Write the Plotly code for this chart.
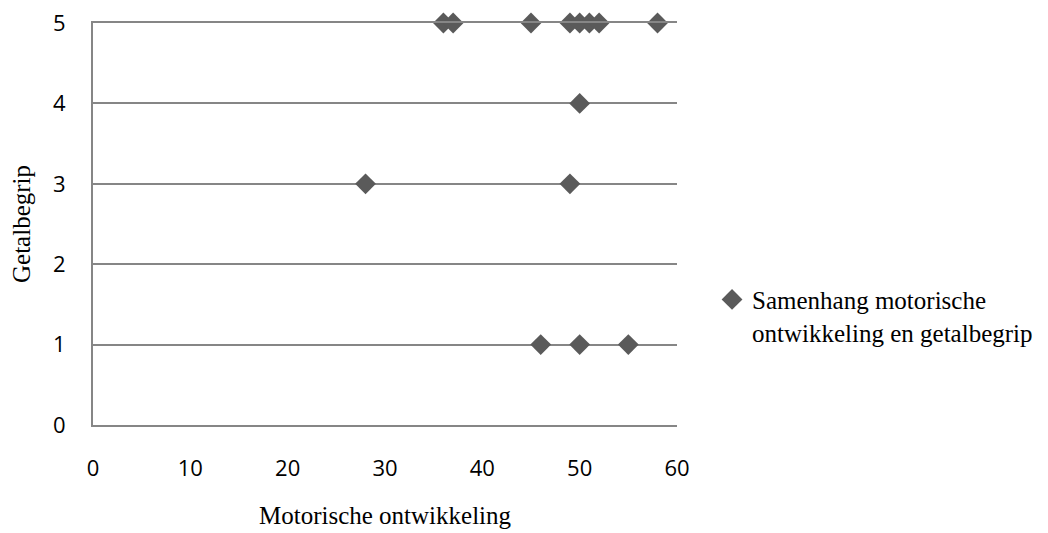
import plotly.graph_objects as go

motorisch = [36, 37, 45, 49, 50, 51, 52, 58, 50, 28, 49, 46, 50, 55]
getalbegrip = [5, 5, 5, 5, 5, 5, 5, 5, 4, 3, 3, 1, 1, 1]
x_ticks = [0, 10, 20, 30, 40, 50, 60]
y_ticks = [0, 1, 2, 3, 4, 5]

fig = go.Figure()
fig.add_trace(go.Scatter(
    x=motorisch, y=getalbegrip, mode="markers",
    name="Samenhang motorische<br>ontwikkeling en getalbegrip",
    marker=dict(symbol="diamond", size=16, color="#5a5a5a"),
    cliponaxis=False,
))

fig.update_layout(
    width=1048, height=533,
    margin=dict(l=85, r=379, t=15, b=116),
    paper_bgcolor="white", plot_bgcolor="white",
    showlegend=True,
    legend=dict(x=1.06, y=0.272, xanchor="left", yanchor="middle", valign="top",
                font=dict(family="Liberation Serif", size=25, color="#000"),
                itemwidth=30, tracegroupgap=0),
    xaxis=dict(range=[0, 60], tickvals=x_ticks, showgrid=False,
               showline=True, linecolor="#868686", linewidth=2, mirror=True,
               ticks="", zeroline=False, ticklabelstandoff=23, automargin=False,
               ticklabeloverflow="allow",
               tickfont=dict(family="Open Sans", size=22, color="#000"),
               title=dict(text="Motorische ontwikkeling", standoff=25,
                          font=dict(family="Liberation Serif", size=25, color="#000"))),
    yaxis=dict(range=[0, 5], tickvals=y_ticks, showgrid=True,
               gridcolor="#868686", gridwidth=2,
               showline=True, linecolor="#868686", linewidth=2,
               ticks="", zeroline=False, ticklabelstandoff=21, automargin=False,
               ticklabeloverflow="allow",
               tickfont=dict(family="Open Sans", size=22, color="#000"),
               title=dict(text="Getalbegrip", standoff=30,
                          font=dict(family="Liberation Serif", size=25, color="#000"))),
)
fig.write_html("out.html")
